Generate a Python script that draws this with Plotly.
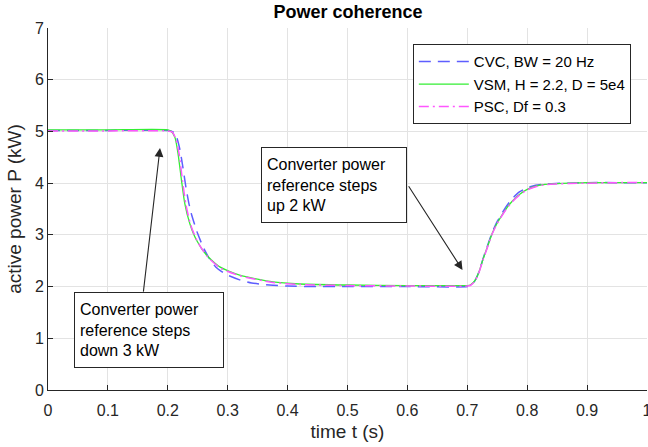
import plotly.graph_objects as go

# ---------------- data ----------------
t_cvc = [0.0, 0.1, 0.2, 0.205, 0.21, 0.215, 0.22, 0.225, 0.23, 0.235, 0.24, 0.25, 0.26, 0.27,
         0.28, 0.29, 0.30, 0.32, 0.34, 0.37, 0.40, 0.45, 0.50, 0.60, 0.70, 0.705, 0.71, 0.714,
         0.72, 0.726, 0.734, 0.742, 0.75, 0.764, 0.775, 0.787, 0.80, 0.814, 0.83, 0.848, 0.87,
         0.90, 0.95, 1.0]
p_cvc = [5.02, 5.02, 5.02, 5.01, 4.98, 4.88, 4.66, 4.32, 3.94, 3.62, 3.38, 3.02, 2.74, 2.53,
         2.38, 2.29, 2.22, 2.13, 2.07, 2.03, 2.01, 2.00, 2.00, 2.00, 2.00, 2.02, 2.07, 2.14,
         2.30, 2.53, 2.80, 3.06, 3.26, 3.53, 3.70, 3.83, 3.91, 3.96, 3.985, 3.995, 4.0,
         4.01, 4.01, 4.01]

t_vsm = [0.0, 0.1, 0.2, 0.206, 0.212, 0.217, 0.2228, 0.2283, 0.2367, 0.2478, 0.2645, 0.2867,
         0.32, 0.3755, 0.42, 0.50, 0.60, 0.70, 0.705, 0.71, 0.714, 0.72, 0.726, 0.734, 0.742,
         0.75, 0.764, 0.775, 0.787, 0.80, 0.814, 0.83, 0.848, 0.87, 0.90, 0.95, 1.0]
p_vsm = [5.03, 5.03, 5.03, 5.0, 4.88, 4.58, 4.06, 3.61, 3.22, 2.90, 2.61, 2.38,
         2.22, 2.09, 2.05, 2.03, 2.02, 2.02, 2.03, 2.08, 2.14, 2.30, 2.52, 2.78, 3.04,
         3.23, 3.49, 3.65, 3.78, 3.88, 3.94, 3.975, 3.99, 4.0, 4.01, 4.01, 4.01]

t_psc = [0.0, 0.1, 0.2, 0.207, 0.213, 0.219, 0.2245, 0.23, 0.238, 0.249, 0.2655, 0.2875,
         0.32, 0.3755, 0.42, 0.50, 0.60, 0.70, 0.705, 0.71, 0.714, 0.72, 0.726, 0.734, 0.742,
         0.75, 0.764, 0.775, 0.787, 0.80, 0.814, 0.83, 0.848, 0.87, 0.90, 0.95, 1.0]
p_psc = [5.01, 5.01, 5.01, 4.99, 4.87, 4.56, 4.05, 3.60, 3.20, 2.88, 2.59, 2.36,
         2.21, 2.08, 2.04, 2.02, 2.01, 2.01, 2.02, 2.07, 2.13, 2.29, 2.51, 2.77, 3.03,
         3.22, 3.48, 3.64, 3.77, 3.87, 3.93, 3.97, 3.985, 3.995, 4.0, 4.01, 4.01]

series_names = ["CVC, BW = 20 Hz", "VSM, H = 2.2, D = 5e4", "PSC, Df = 0.3"]
x_ticks = [0, 0.1, 0.2, 0.3, 0.4, 0.5, 0.6, 0.7, 0.8, 0.9, 1.0]
x_tick_labels = ["0", "0.1", "0.2", "0.3", "0.4", "0.5", "0.6", "0.7", "0.8", "0.9", "1"]
y_ticks = [0, 1, 2, 3, 4, 5, 6, 7]

note_down = "Converter power<br>reference steps<br>down 3 kW"
note_up = "Converter power<br>reference steps<br>up 2 kW"

FONT = "Liberation Sans, Arial, Helvetica, sans-serif"
AX = "#262626"

fig = go.Figure()
fig.add_trace(go.Scatter(x=t_cvc, y=p_cvc, mode="lines", name=series_names[0],
                         line=dict(color="#5e5eff", width=1.5, dash="12px,7px", shape="spline", smoothing=0.6)))
fig.add_trace(go.Scatter(x=t_vsm, y=p_vsm, mode="lines", name=series_names[1],
                         line=dict(color="#33ee33", width=1.3, shape="spline", smoothing=0.6)))
fig.add_trace(go.Scatter(x=t_psc, y=p_psc, mode="lines", name=series_names[2],
                         line=dict(color="#ff55ff", width=1.5, dash="10px,4px,2px,4px", shape="spline", smoothing=0.6)))

# text boxes
box_style = dict(showarrow=False, xref="x", yref="y", align="left",
                 font=dict(family=FONT, size=16, color="#000000"),
                 bgcolor="white", bordercolor=AX, borderwidth=1, borderpad=5)
fig.add_annotation(text=note_down, x=0.168, y=1.166, width=138, height=64, **box_style)
fig.add_annotation(text=note_up, x=0.478, y=3.966, width=134, height=64, **box_style)

# arrows
arrow_style = dict(text="", showarrow=True, xref="x", yref="y", axref="x", ayref="y",
                   arrowhead=2, arrowsize=1.6, arrowwidth=1.1, arrowcolor=AX, standoff=0)
fig.add_annotation(x=0.187, y=4.68, ax=0.159, ay=1.874, **arrow_style)
fig.add_annotation(x=0.692, y=2.32, ax=0.6005, ay=3.97, **arrow_style)

fig.update_layout(
    width=648, height=447,
    margin=dict(l=48, r=1, t=27.5, b=56.5),
    paper_bgcolor="white", plot_bgcolor="white",
    font=dict(family=FONT, color=AX),
    title=dict(text="<b>Power coherence</b>", x=0.537, xanchor="center",
               y=1 - 12 / 447, yanchor="middle", yref="container",
               font=dict(family=FONT, size=18, color="#000000")),
    showlegend=True,
    legend=dict(x=0.973, y=0.955, xanchor="right", yanchor="top",
                bgcolor="white", bordercolor=AX, borderwidth=1,
                font=dict(family=FONT, size=15, color="#000000"),
                tracegroupgap=0, itemwidth=50),
)
fig.update_xaxes(range=[0, 1], tickvals=x_ticks, ticktext=x_tick_labels,
                 showgrid=True, gridcolor="#e3e3e3", gridwidth=1,
                 showline=True, linecolor=AX, linewidth=1, zeroline=False,
                 ticks="inside", ticklen=5, tickcolor=AX, ticklabelstandoff=6,
                 ticklabeloverflow="allow",
                 tickfont=dict(family=FONT, size=16, color=AX),
                 title=dict(text="time t (s)", font=dict(family=FONT, size=19, color=AX), standoff=6),
                 automargin=False)
fig.update_yaxes(range=[0, 7], tickvals=y_ticks,
                 showgrid=True, gridcolor="#e3e3e3", gridwidth=1,
                 showline=True, linecolor=AX, linewidth=1, zeroline=False,
                 ticks="inside", ticklen=5, tickcolor=AX,
                 tickfont=dict(family=FONT, size=16, color=AX),
                 title=dict(text="active power P (kW)", font=dict(family=FONT, size=19, color=AX), standoff=8),
                 automargin=False)

fig.write_html("out.html", config={"displayModeBar": False},
               post_script="document.body.style.margin='0';document.body.style.overflow='hidden';")
